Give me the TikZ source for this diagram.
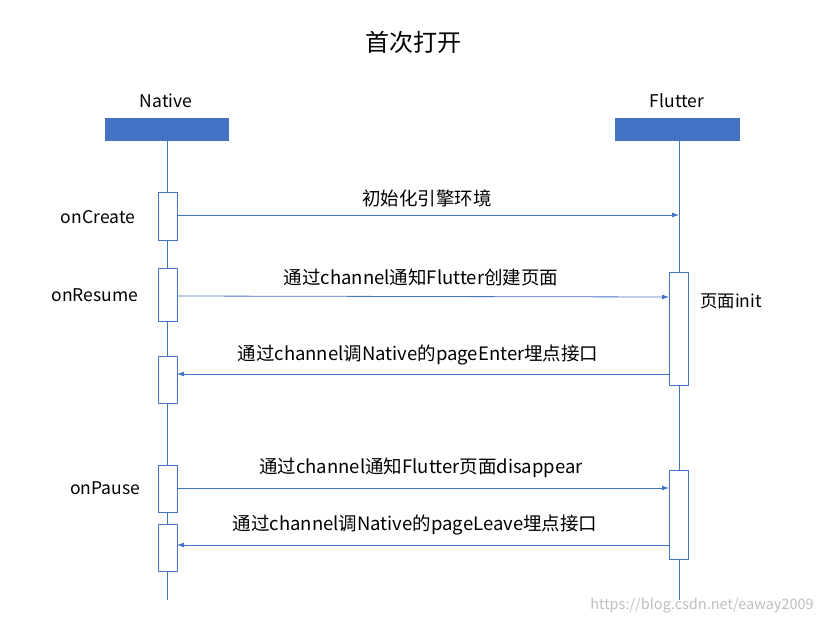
\documentclass[tikz,border=0pt]{standalone}
\usepackage{fontspec}
\setmainfont{Noto Sans CJK SC}
\usetikzlibrary{arrows.meta}
\definecolor{bl}{HTML}{4472C4}
\begin{document}
\begin{tikzpicture}[x=1pt,y=-1pt,
  bar/.style={fill=bl,draw=none},
  act/.style={draw=bl,fill=white,line width=0.8pt},
  life/.style={draw=bl,line width=0.8pt},
  msg/.style={draw=bl,line width=0.8pt,-{Latex[length=7pt,width=5pt]}},
  lbl/.style={font=\fontsize{18.5}{20}\selectfont},
  side/.style={font=\fontsize{17.5}{20}\selectfont}]
\useasboundingbox (0,0) rectangle (825,624);
\node[font=\fontsize{24}{28}\selectfont] (title) at (413,42) {首次打开};
\node[side] (nl) at (166,101) {Native};
\node[side] (fl) at (677,101) {Flutter};
\fill[bar] (105,118) rectangle (229,141);
\fill[bar] (615,118) rectangle (740,141);
\coordinate (nt) at (167,141); \coordinate (nb) at (167,600);
\coordinate (ft) at (679,141); \coordinate (fb) at (679,600);
\draw[life] (nt) -- (nb);
\draw[life] (ft) -- (fb);
\draw[act] (158,192) rectangle (177,240);
\draw[act] (158,268) rectangle (177,321);
\draw[act] (158,356) rectangle (177,403);
\draw[act] (158,465) rectangle (177,512);
\draw[act] (158,524) rectangle (177,571);
\draw[act] (669,272) rectangle (688,385);
\draw[act] (669,470) rectangle (688,559);
\coordinate (a1) at (177,215); \coordinate (b1) at (679,215);
\coordinate (a2) at (177,296); \coordinate (b2) at (669,297);
\coordinate (a3) at (669,374); \coordinate (b3) at (177,374);
\coordinate (a4) at (177,488); \coordinate (b4) at (669,488);
\coordinate (a5) at (669,545); \coordinate (b5) at (177,545);
\draw[msg] (a1) -- (b1);
\draw[msg] (a2) -- (b2);
\draw[msg] (a3) -- (b3);
\draw[msg] (a4) -- (b4);
\draw[msg] (a5) -- (b5);
\node[lbl] at (427,198) {初始化引擎环境};
\node[lbl] at (421,277) {通过channel通知Flutter创建页面};
\node[lbl] at (418,355) {通过channel调Native的pageEnter埋点接口};
\node[lbl] at (421,468) {通过channel通知Flutter页面disappear};
\node[lbl] at (415,525) {通过channel调Native的pageLeave埋点接口};
\node[side] at (98,217) {onCreate};
\node[side] at (95,295) {onResume};
\node[side] at (105,488) {onPause};
\node[side] at (731,301) {页面init};
\node[font=\fontsize{14.5}{16}\selectfont,text=gray!50] at (702,606) {https://blog.csdn.net/eaway2009};
\end{tikzpicture}
\end{document}
